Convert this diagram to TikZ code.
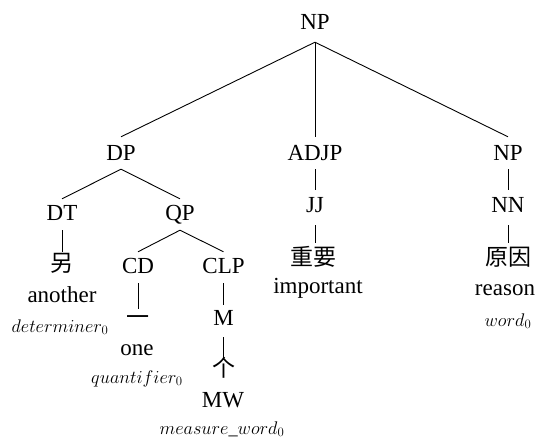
\RequirePackage{fix-cm}
\documentclass[tikz,border=0pt]{standalone}
\usepackage{fontspec}
\setmainfont{Liberation Serif}
\newfontfamily\cjk{Noto Sans CJK SC}
\begin{document}
\begin{tikzpicture}[x=1pt,y=-1pt,
  cat/.style={inner sep=0pt, anchor=base, text height=21pt, text depth=10pt, font=\fontsize{23}{27}\selectfont},
  han/.style={inner sep=0pt, anchor=base, text depth=0pt, font=\cjk\fontsize{23}{27}\selectfont},
  wordnode/.style={inner sep=0pt, anchor=base, font=\fontsize{23}{27}\selectfont},
  tagnode/.style={inner sep=0pt, anchor=base, font=\fontsize{18.3}{20}\selectfont},
  br/.style={draw, line width=0.9pt}]
\useasboundingbox (0,0) rectangle (542,439);
% categories
\node[cat, text height=23pt, text depth=12pt] (np) at (315,30) {NP};
\node[cat, text height=23pt, text depth=9pt] (dp) at (121,160) {DP};
\node[cat, text height=23pt, text depth=9pt] (adjp) at (315,160) {ADJP};
\node[cat, text height=23pt, text depth=9pt] (np2) at (508,160) {NP};
\node[cat] (dt) at (62,220) {DT};
\node[cat] (qp) at (180,220) {QP};
\node[cat, text height=22pt, text depth=13pt] (jj) at (315,212) {JJ};
\node[cat, text height=22pt, text depth=13pt] (nn) at (508,212) {NN};
\node[cat] (cd) at (138,273) {CD};
\node[cat] (clp) at (223.5,273) {CLP};
\node[cat, text height=20pt, text depth=12pt] (m) at (223.5,325) {M};
% chinese leaves
\node[han, text height=19pt] (ling) at (62,271) {另};
\node[han, text height=16pt] (yi) at (138,325) {一};
\node[han, text height=18pt] (ge) at (223.5,376) {个};
\node[han, text height=22pt] (zy) at (313,265) {重要};
\node[han, text height=22pt] (yy) at (508,265) {原因};
% glosses
\node[wordnode] (another) at (62,302) {another};
\node[wordnode] (one) at (137,355) {one};
\node[wordnode] (mw) at (223,407) {MW};
\node[wordnode] (important) at (318,293) {important};
\node[wordnode] (reason) at (505,295) {reason};
% tags
\node[tagnode] (det) at (60,332) {$determiner_0$};
\node[tagnode] (quant) at (137,383) {$quantifier_0$};
\node[tagnode] (meas) at (222,434) {$measure\_word_0$};
\node[tagnode] (wd) at (508,326) {$word_0$};
% branches
\draw[br] (np.south) -- (dp.north);
\draw[br] (np.south) -- (adjp.north);
\draw[br] (np.south) -- (np2.north);
\draw[br] (dp.south) -- (dt.north);
\draw[br] (dp.south) -- (qp.north);
\draw[br] (dt.south) -- (dt.south |- ling.north);
\draw[br] (qp.south) -- (cd.north);
\draw[br] (qp.south) -- (clp.north);
\draw[br] (cd.south) -- (cd.south |- yi.north);
\draw[br] (clp.south) -- (m.north);
\draw[br] (m.south) -- (ge.north);
\draw[br] (adjp.south) -- (jj.north);
\draw[br] (jj.south) -- (jj.south |- zy.north);
\draw[br] (np2.south) -- (nn.north);
\draw[br] (nn.south) -- (nn.south |- yy.north);
\end{tikzpicture}
\end{document}
